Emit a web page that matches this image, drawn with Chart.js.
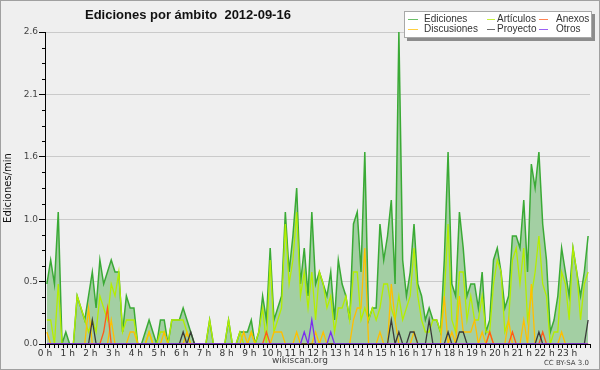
<!DOCTYPE html>
<html>
<head>
<meta charset="utf-8">
<script src="https://cdn.jsdelivr.net/npm/chart.js@4.4.1/dist/chart.umd.min.js"></script>
<style>
  body { margin: 0; background: #efefef; }
  canvas { display: block; }
</style>
</head>
<body>
<canvas id="grafico" width="600" height="370"></canvas>
<script>
// ediciones/min por tramo de 10 minutos (00:00 -> 23:50)
const ediciones = [
  0.5, 0.7, 0.5, 1.1, 0, 0.1, 0, 0, 0.4, 0.3,
  0.2, 0.4, 0.6, 0.3, 0.7, 0.5, 0.6, 0.7, 0.6, 0.6,
  0.1, 0.4, 0.3, 0.3, 0, 0, 0.1, 0.2, 0.1, 0,
  0.2, 0.2, 0, 0.2, 0.2, 0.2, 0.3, 0.2, 0.1, 0,
  0, 0, 0, 0.2, 0, 0, 0, 0, 0.2, 0,
  0, 0.1, 0.1, 0.1, 0.2, 0, 0.1, 0.4, 0.2, 0.8,
  0.2, 0.3, 0.4, 1.1, 0.6, 0.9, 1.3, 0.5, 0.8, 0.4,
  1.1, 0.5, 0.6, 0.5, 0.4, 0.6, 0.2, 0.7, 0.5, 0.4,
  0.2, 1.0, 1.1, 0.6, 1.6, 0.2, 0.3, 0.3, 1.0, 0.7,
  0.9, 1.2, 0.5, 2.6, 0.7, 0.4, 0.6, 1.0, 0.5, 0.4,
  0.2, 0.3, 0.2, 0.2, 0.1, 0.7, 1.6, 0.5, 0.4, 1.1,
  0.8, 0.4, 0.5, 0.5, 0.3, 0.6, 0.1, 0.2, 0.7, 0.8,
  0.6, 0.3, 0.4, 0.9, 0.9, 0.8, 1.2, 0.6, 1.5, 1.3,
  1.6, 1.0, 0.7, 0.1, 0.2, 0.4, 0.8, 0.6, 0.4, 0.8,
  0.6, 0.4, 0.6, 0.9
]
const articulos = [
  0.2, 0.2, 0, 0.5, 0, 0, 0, 0, 0.4, 0.3,
  0.2, 0.1, 0.2, 0.1, 0.4, 0.3, 0.2, 0.5, 0.4, 0.6,
  0.1, 0.2, 0.2, 0.2, 0, 0, 0, 0.1, 0, 0,
  0.1, 0.1, 0, 0.2, 0.2, 0.2, 0.2, 0.1, 0, 0,
  0, 0, 0, 0.2, 0, 0, 0, 0, 0.2, 0,
  0, 0.1, 0, 0, 0.1, 0, 0.1, 0.3, 0, 0.7,
  0.1, 0.2, 0.3, 1.0, 0.5, 0.7, 1.1, 0.4, 0.6, 0.3,
  0.6, 0.2, 0.6, 0.5, 0.3, 0.4, 0.1, 0.3, 0.3, 0.4,
  0.2, 0.6, 0.6, 0.2, 0.3, 0.2, 0.3, 0.2, 0.3, 0.5,
  0.5, 0.3, 0.2, 0.4, 0.2, 0.3, 0.4, 0.8, 0.4, 0.2,
  0.1, 0.1, 0.2, 0.2, 0.1, 0.4, 1.0, 0.2, 0.1, 0.6,
  0.6, 0.2, 0.4, 0.2, 0.2, 0.4, 0.1, 0.1, 0.5, 0.7,
  0.6, 0.1, 0.2, 0.7, 0.8, 0.5, 0.8, 0.2, 0.4, 0.6,
  0.9, 0.5, 0.4, 0, 0.1, 0.1, 0.6, 0.5, 0.2, 0.8,
  0.6, 0.2, 0.5, 0.6
]
const discusiones = [
  0.1, 0, 0, 0, 0, 0, 0, 0, 0, 0,
  0, 0.3, 0, 0, 0, 0, 0, 0.2, 0, 0,
  0, 0, 0.1, 0.1, 0, 0, 0, 0.1, 0, 0,
  0, 0.1, 0, 0, 0, 0, 0, 0.1, 0, 0,
  0, 0, 0, 0, 0, 0, 0, 0, 0, 0,
  0, 0, 0.1, 0, 0.1, 0, 0, 0, 0, 0,
  0.1, 0.1, 0.1, 0, 0, 0, 0.1, 0, 0, 0,
  0, 0.1, 0, 0.1, 0, 0, 0, 0, 0, 0,
  0, 0.2, 0.3, 0.3, 0.8, 0, 0, 0, 0.1, 0,
  0, 0.5, 0.2, 0, 0, 0, 0, 0.1, 0, 0,
  0, 0, 0, 0, 0, 0.4, 0, 0.1, 0, 0.4,
  0.1, 0.1, 0.1, 0.2, 0, 0.1, 0, 0.1, 0, 0,
  0, 0, 0.2, 0, 0, 0, 0.2, 0, 0.5, 0,
  0, 0, 0, 0, 0, 0, 0.1, 0, 0, 0,
  0, 0, 0, 0
]
const anexos = [
  0, 0, 0, 0, 0, 0, 0, 0, 0, 0,
  0, 0, 0, 0, 0, 0.1, 0.3, 0, 0, 0,
  0, 0, 0, 0, 0, 0, 0, 0, 0, 0,
  0, 0, 0, 0, 0, 0, 0, 0, 0, 0,
  0, 0, 0, 0, 0, 0, 0, 0, 0, 0,
  0, 0, 0, 0, 0, 0, 0, 0, 0.1, 0,
  0, 0, 0, 0, 0, 0, 0, 0, 0, 0,
  0, 0, 0, 0, 0, 0, 0, 0, 0, 0,
  0, 0, 0, 0, 0, 0, 0, 0, 0, 0,
  0, 0, 0, 0, 0, 0, 0, 0, 0, 0,
  0, 0, 0, 0, 0, 0, 0, 0, 0, 0,
  0, 0, 0, 0, 0, 0, 0, 0.1, 0, 0,
  0, 0, 0, 0.1, 0, 0, 0, 0, 0, 0,
  0, 0.1, 0, 0, 0, 0, 0, 0, 0, 0,
  0, 0, 0, 0
]
const proyecto = [
  0, 0, 0, 0, 0, 0, 0, 0, 0, 0,
  0, 0, 0.2, 0, 0, 0, 0, 0, 0, 0,
  0, 0, 0, 0, 0, 0, 0, 0, 0, 0,
  0, 0, 0, 0, 0, 0, 0.1, 0, 0.1, 0,
  0, 0, 0, 0, 0, 0, 0, 0, 0, 0,
  0, 0, 0, 0, 0, 0, 0, 0, 0, 0,
  0, 0, 0, 0, 0, 0, 0, 0, 0, 0,
  0, 0, 0, 0, 0, 0, 0, 0, 0, 0,
  0, 0, 0, 0, 0, 0, 0, 0, 0, 0,
  0, 0.2, 0, 0.1, 0, 0, 0.1, 0.1, 0, 0,
  0, 0.2, 0, 0, 0, 0, 0.1, 0, 0, 0.1,
  0.1, 0, 0, 0, 0, 0, 0, 0, 0, 0,
  0, 0, 0, 0, 0, 0, 0, 0, 0, 0,
  0.1, 0, 0, 0, 0, 0, 0, 0, 0, 0,
  0, 0, 0, 0.2
]
const otros = [
  0, 0, 0, 0, 0, 0, 0, 0, 0, 0,
  0, 0, 0, 0, 0, 0, 0, 0, 0, 0,
  0, 0, 0, 0, 0, 0, 0, 0, 0, 0,
  0, 0, 0, 0, 0, 0, 0, 0, 0, 0,
  0, 0, 0, 0, 0, 0, 0, 0, 0, 0,
  0, 0, 0, 0, 0, 0, 0, 0, 0, 0,
  0, 0, 0, 0, 0, 0, 0, 0, 0.1, 0,
  0.2, 0, 0, 0, 0, 0.1, 0, 0, 0, 0,
  0, 0, 0, 0, 0, 0, 0, 0, 0, 0,
  0, 0, 0, 0, 0, 0, 0, 0, 0, 0,
  0, 0, 0, 0, 0, 0, 0, 0, 0, 0,
  0, 0, 0, 0, 0, 0, 0, 0, 0, 0,
  0, 0, 0, 0, 0, 0, 0, 0, 0, 0,
  0, 0, 0, 0, 0, 0, 0, 0, 0, 0,
  0, 0, 0, 0
]

// centro de cada tramo, en horas
const horas = ediciones.map((_, i) => (i * 10 + 5) / 60)
const yTicks = [0, 0.52, 1.04, 1.56, 2.08, 2.6]
const xTicks = Array.from({ length: 121 }, (_, k) => k / 5)

const titulo = 'Ediciones por ámbito  2012-09-16'

const serie = (label, values, color, order, extra = {}) => ({
  label,
  data: values.map((v, i) => ({ x: horas[i], y: v })),
  borderColor: color,
  backgroundColor: color,
  borderWidth: 1.3,
  pointRadius: 0,
  tension: 0,
  fill: false,
  order,
  ...extra
})

const decor = {
  id: 'decor',
  beforeDraw(chart) {
    const { ctx, width, height } = chart
    ctx.save()
    ctx.fillStyle = '#efefef'
    ctx.fillRect(0, 0, width, height)
    ctx.restore()
  },
  afterDraw(chart) {
    const { ctx, width, height } = chart
    const y = chart.scales.y
    ctx.save()
    // minor ticks on y axis
    ctx.strokeStyle = '#000'
    ctx.lineWidth = 1
    for (let k = 1; k < 20; k++) {
      if (k % 4 === 0) continue
      const py = Math.round(y.getPixelForValue(k * 0.13)) + 0.5
      ctx.beginPath()
      ctx.moveTo(y.right - 3, py)
      ctx.lineTo(y.right, py)
      ctx.stroke()
    }

    // title
    ctx.fillStyle = '#111'
    ctx.font = 'bold 13px "Liberation Sans"'
    ctx.textBaseline = 'alphabetic'
    ctx.textAlign = 'left'
    ctx.fillText(titulo, 85, 18.5)

    // legend box
    ctx.fillStyle = '#8c8c8c'
    ctx.fillRect(407, 14, 188, 27)
    ctx.fillStyle = '#fff'
    ctx.fillRect(404, 11, 188, 27)
    ctx.strokeStyle = '#a8a8a8'
    ctx.strokeRect(404.5, 11.5, 187, 26)
    const cols = [[408, 418, 424], [487, 495, 497], [539, 548, 556]]
    const rows = [19.5, 29.5]
    const order = [0, 1, 2, 3, 4, 5]
    ctx.font = '10px "Liberation Sans"'
    ctx.textBaseline = 'middle'
    order.forEach(idx => {
      const ds = chart.data.datasets[idx]
      const c = cols[idx % 3]
      const r = rows[Math.floor(idx / 3)]
      ctx.strokeStyle = ds.borderColor
      ctx.globalAlpha = 0.75
      ctx.beginPath()
      ctx.moveTo(c[0], r)
      ctx.lineTo(c[1], r)
      ctx.stroke()
      ctx.globalAlpha = 1
      ctx.fillStyle = '#333'
      ctx.fillText(ds.label, c[2], r)
    })

    // footer
    ctx.fillStyle = '#444'
    ctx.font = '9px "DejaVu Sans"'
    ctx.textAlign = 'center'
    ctx.fillText('wikiscan.org', 300, 361)
    ctx.font = '7px "DejaVu Sans"'
    ctx.textAlign = 'right'
    ctx.fillText('CC BY-SA 3.0', 589, 363)

    // frame
    ctx.strokeStyle = '#a0a0a0'
    ctx.strokeRect(0.5, 0.5, width - 1, height - 1)
    ctx.restore()
  }
}

Chart.defaults.font.family = '"DejaVu Sans"'

new Chart(document.getElementById('grafico'), {
  type: 'line',
  data: {
    datasets: [
      // datasets are listed in legend order: row 1 then row 2
      serie('Ediciones', ediciones, '#3aaa35', 6, { fill: 'origin', backgroundColor: '#a3cfa3', borderWidth: 1.5 }),
      serie('Artículos', articulos, '#b4ee00', 5),
      serie('Anexos', anexos, '#ff5a1a', 3),
      serie('Discusiones', discusiones, '#ffbf00', 4),
      serie('Proyecto', proyecto, '#3a3a3a', 2),
      serie('Otros', otros, '#7a2cf0', 1)
    ]
  },
  options: {
    responsive: false,
    animation: false,
    layout: { padding: { top: 32, right: 10, left: 0, bottom: 0 } },
    plugins: {
      legend: { display: false },
      tooltip: { enabled: false }
    },
    scales: {
      x: {
        type: 'linear',
        min: 0,
        max: 24,
        afterBuildTicks: s => { s.ticks = xTicks.map(v => ({ value: v })) },
        afterFit: s => { s.height = 26 },
        grid: { drawOnChartArea: false, tickColor: '#000', tickLength: 4 },
        border: { color: '#000' },
        ticks: {
          autoSkip: false,
          maxRotation: 0,
          padding: 0,
          color: '#333',
          font: { size: 9 },
          callback: v => (Math.abs(v - Math.round(v)) < 1e-6 && Math.round(v) < 24) ? Math.round(v) + ' h' : ''
        }
      },
      y: {
        min: 0,
        max: 2.6,
        afterBuildTicks: s => { s.ticks = yTicks.map(v => ({ value: v })) },
        afterFit: s => { s.width = 45 },
        grid: {
          color: c => c.tick && c.tick.value === 0 ? 'rgba(0,0,0,0)' : '#cacaca',
          tickColor: '#000',
          tickLength: 6
        },
        border: { color: '#000' },
        ticks: {
          padding: 1,
          color: '#444',
          font: { size: 9 },
          callback: v => v.toFixed(1)
        },
        title: {
          display: true,
          text: 'Ediciones/min',
          color: '#111',
          font: { size: 10 },
          padding: { top: 2, bottom: 2 }
        }
      }
    }
  },
  plugins: [decor]
})
</script>
</body>
</html>
